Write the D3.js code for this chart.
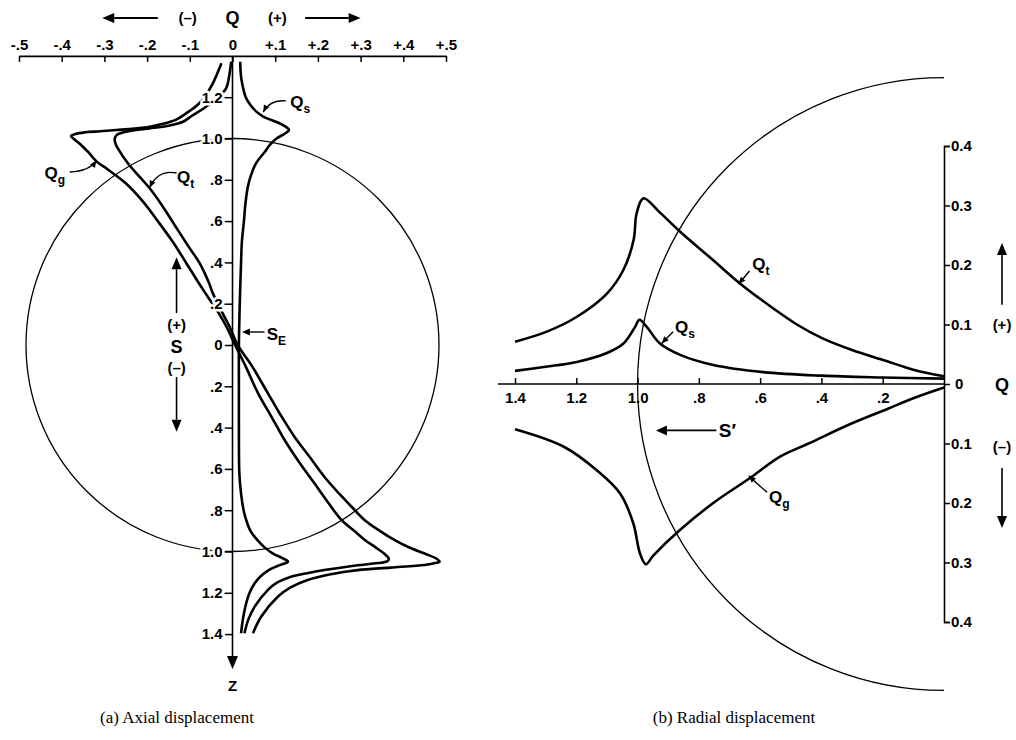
<!DOCTYPE html>
<html>
<head>
<meta charset="utf-8">
<script src="https://cdn.jsdelivr.net/npm/d3@7"></script>
<style>
  html, body { margin: 0; padding: 0; background: #fff; }
  svg { display: block; }
  text { font-family: "Liberation Sans", Arial, sans-serif; font-weight: bold; fill: #000; }
  .caption { font-family: "Liberation Serif", "DejaVu Serif", serif; font-weight: normal; }
</style>
</head>
<body>
<svg id="chart" width="1016" height="740"></svg>
<script>
// ---------- (a) Axial displacement: [S, Q] pairs ----------
const axialQs = [
  [1.372, 0.018], [1.30, 0.020], [1.243, 0.025], [1.20, 0.031], [1.162, 0.042],
  [1.13, 0.056], [1.106, 0.072], [1.074, 0.110], [1.052, 0.128], [1.041, 0.132],
  [1.02, 0.120], [1.0, 0.103], [0.97, 0.088], [0.936, 0.076], [0.88, 0.055],
  [0.82, 0.043], [0.767, 0.036], [0.68, 0.030], [0.605, 0.027], [0.5, 0.022],
  [0.396, 0.020], [0.2, 0.017], [0.0, 0.015], [-0.2, 0.015], [-0.4, 0.015],
  [-0.62, 0.016], [-0.72, 0.020], [-0.80, 0.026], [-0.847, 0.032], [-0.90, 0.042],
  [-0.944, 0.058], [-0.98, 0.075], [-1.01, 0.095], [-1.033, 0.118], [-1.049, 0.130],
  [-1.065, 0.112], [-1.09, 0.085], [-1.12, 0.066], [-1.154, 0.052], [-1.20, 0.040],
  [-1.251, 0.032], [-1.32, 0.025], [-1.396, 0.020]
];
const axialQg = [
  [1.364, -0.026], [1.267, -0.046], [1.20, -0.066], [1.162, -0.082], [1.12, -0.110],
  [1.09, -0.133], [1.07, -0.165], [1.057, -0.194], [1.048, -0.230], [1.041, -0.272],
  [1.035, -0.310], [1.03, -0.345], [1.022, -0.368], [1.012, -0.378], [0.995, -0.370],
  [0.97, -0.355], [0.93, -0.336], [0.888, -0.318], [0.85, -0.292], [0.783, -0.250],
  [0.70, -0.212], [0.589, -0.171], [0.50, -0.140], [0.396, -0.108], [0.30, -0.079],
  [0.234, -0.058], [0.153, -0.032], [0.08, -0.012], [0.0, 0.006], [-0.10, 0.030],
  [-0.234, 0.060], [-0.35, 0.092], [-0.46, 0.122], [-0.57, 0.157], [-0.67, 0.192],
  [-0.76, 0.223], [-0.847, 0.255], [-0.90, 0.285], [-0.944, 0.310], [-0.98, 0.335],
  [-1.01, 0.355], [-1.035, 0.366], [-1.048, 0.362], [-1.056, 0.340], [-1.07, 0.280],
  [-1.09, 0.215], [-1.105, 0.175], [-1.122, 0.137], [-1.15, 0.105], [-1.186, 0.083],
  [-1.267, 0.052], [-1.33, 0.037], [-1.396, 0.028]
];
const axialQt = [
  [1.372, -0.003], [1.30, -0.008], [1.243, -0.015], [1.19, -0.040], [1.148, -0.066],
  [1.11, -0.095], [1.081, -0.116], [1.062, -0.150], [1.049, -0.194], [1.04, -0.230],
  [1.03, -0.255], [1.015, -0.272], [0.995, -0.276], [0.97, -0.273], [0.944, -0.266],
  [0.88, -0.245], [0.82, -0.220], [0.759, -0.194], [0.67, -0.163], [0.573, -0.133],
  [0.48, -0.104], [0.396, -0.077], [0.30, -0.055], [0.25, -0.046], [0.153, -0.023],
  [0.08, -0.005], [0.0, 0.012], [-0.10, 0.045], [-0.234, 0.083], [-0.34, 0.113],
  [-0.444, 0.145], [-0.54, 0.180], [-0.638, 0.215], [-0.72, 0.250], [-0.799, 0.286],
  [-0.847, 0.309], [-0.90, 0.345], [-0.944, 0.379], [-0.977, 0.410], [-1.01, 0.450],
  [-1.035, 0.478], [-1.049, 0.485], [-1.058, 0.470], [-1.065, 0.450], [-1.078, 0.370],
  [-1.09, 0.293], [-1.11, 0.230], [-1.138, 0.176], [-1.175, 0.135], [-1.219, 0.106],
  [-1.316, 0.067], [-1.396, 0.048]
];

// ---------- (b) Radial displacement: [S', Q] pairs ----------
const radialQt = [
  [1.4, 0.071], [1.296, 0.088], [1.198, 0.113], [1.1, 0.152], [1.046, 0.192],
  [1.013, 0.242], [1.003, 0.287], [0.981, 0.312], [0.927, 0.288], [0.861, 0.256],
  [0.753, 0.208], [0.666, 0.169], [0.557, 0.127], [0.48, 0.100],
  [0.398, 0.077], [0.30, 0.057], [0.19, 0.039], [0.10, 0.024], [0.0, 0.013]
];
const radialQs = [
  [1.4, 0.022], [1.3, 0.029], [1.198, 0.037], [1.1, 0.052], [1.046, 0.068],
  [1.008, 0.096], [0.994, 0.108], [0.97, 0.096], [0.927, 0.068], [0.861, 0.049],
  [0.753, 0.032], [0.59, 0.020], [0.4, 0.014], [0.2, 0.011], [0.0, 0.009]
];
const radialQg = [
  [1.4, -0.076], [1.242, -0.105], [1.133, -0.145], [1.057, -0.184], [1.014, -0.234],
  [0.992, -0.285], [0.973, -0.303], [0.948, -0.288], [0.861, -0.245], [0.753, -0.200],
  [0.633, -0.158], [0.535, -0.122], [0.442, -0.100], [0.30, -0.066], [0.185, -0.042],
  [0.10, -0.024], [0.0, -0.006]
];

// ---------- tick values and labels ----------
const topTicks  = [-0.5, -0.4, -0.3, -0.2, -0.1, 0, 0.1, 0.2, 0.3, 0.4, 0.5];
const topLabels = ["-.5", "-.4", "-.3", "-.2", "-.1", "0", "+.1", "+.2", "+.3", "+.4", "+.5"];
const zTicks    = [1.2, 1.0, 0.8, 0.6, 0.4, 0.2, 0, -0.2, -0.4, -0.6, -0.8, -1.0, -1.2, -1.4];
const zLabels   = ["1.2", "1.0", ".8", ".6", ".4", ".2", "0", ".2", ".4", ".6", ".8", "1.0", "1.2", "1.4"];
const sTicks    = [1.4, 1.2, 1.0, 0.8, 0.6, 0.4, 0.2];
const sLabels   = ["1.4", "1.2", "1.0", ".8", ".6", ".4", ".2"];
const qTicks    = [0.4, 0.3, 0.2, 0.1, 0, -0.1, -0.2, -0.3, -0.4];
const qLabels   = ["0.4", "0.3", "0.2", "0.1", "0", "0.1", "0.2", "0.3", "0.4"];

const svg = d3.select("#chart");
svg.append("rect").attr("width", 1016).attr("height", 740).attr("fill", "#fff");

// arrow with filled triangular head at (x2, y2)
function arrow(g, x1, y1, x2, y2, len = 10, half = 4.5, sw = 1.6) {
  const a = Math.atan2(y2 - y1, x2 - x1);
  const bx = x2 - len * Math.cos(a), by = y2 - len * Math.sin(a);
  g.append("line").attr("x1", x1).attr("y1", y1).attr("x2", bx).attr("y2", by)
    .attr("stroke", "#000").attr("stroke-width", sw);
  const p = [
    [x2, y2],
    [bx + half * Math.sin(a), by - half * Math.cos(a)],
    [bx - half * Math.sin(a), by + half * Math.cos(a)]
  ];
  g.append("path").attr("d", "M" + p.map(d => d.join(",")).join("L") + "Z").attr("fill", "#000");
}

// curved leader ending in a small arrowhead
function leader(g, p0, c, p1) {
  g.append("path")
    .attr("d", `M${p0[0]},${p0[1]}Q${c[0]},${c[1]} ${p1[0]},${p1[1]}`)
    .attr("fill", "none").attr("stroke", "#000").attr("stroke-width", 1.4);
  const a = Math.atan2(p1[1] - c[1], p1[0] - c[0]);
  const len = 7, half = 3;
  const bx = p1[0] - len * Math.cos(a), by = p1[1] - len * Math.sin(a);
  g.append("path")
    .attr("d", `M${p1[0]},${p1[1]}L${bx + half * Math.sin(a)},${by - half * Math.cos(a)}L${bx - half * Math.sin(a)},${by + half * Math.cos(a)}Z`)
    .attr("fill", "#000");
}

// label with a subscript
function subLabel(g, x, y, main, sub, size = 17) {
  const t = g.append("text").attr("x", x).attr("y", y).style("font-size", size + "px");
  t.append("tspan").text(main);
  t.append("tspan").attr("dy", 5).style("font-size", Math.round(size * 0.72) + "px").text(sub);
  return t;
}

function halo(sel) {
  sel.selectAll("text")
    .attr("stroke", "#fff").attr("stroke-width", 5).attr("paint-order", "stroke")
    .attr("stroke-linejoin", "round");
}

// ======================= (a) Axial displacement =======================
const xQ = d3.scaleLinear().domain([-0.5, 0.5]).range([19, 446]);
const yS = d3.scaleLinear().domain([-1.4, 1.4]).range([634.1, 55.9]);

const gA = svg.append("g");
const rA = yS(0) - yS(1);

// unit circle
gA.append("circle").attr("cx", xQ(0)).attr("cy", yS(0)).attr("r", rA)
  .attr("fill", "none").attr("stroke", "#000").attr("stroke-width", 1.3);

const lineA = d3.line().x(d => xQ(d[1])).y(d => yS(d[0])).curve(d3.curveCatmullRom.alpha(0.5));
[axialQs, axialQg, axialQt].forEach(data => {
  gA.append("path").attr("d", lineA(data)).attr("fill", "none")
    .attr("stroke", "#000").attr("stroke-width", 2.6).attr("stroke-linejoin", "round");
});

// vertical Z axis with arrowhead
arrow(gA, xQ(0), yS(1.4), xQ(0), 669, 13, 5.5, 1.6);
gA.append("text").attr("x", xQ(0)).attr("y", 691).attr("text-anchor", "middle")
  .style("font-size", "15px").text("Z");

const zAxis = gA.append("g").attr("transform", `translate(${xQ(0)},0)`)
  .call(d3.axisLeft(yS).tickValues(zTicks).tickSize(8).tickPadding(2)
    .tickFormat((d, i) => zLabels[i]));
zAxis.select(".domain").remove();
zAxis.selectAll("line").attr("stroke", "#000").attr("stroke-width", 1.5);
zAxis.selectAll("text").style("font-size", "15px").attr("font-family", null);
halo(zAxis);

// top Q axis
const qAxis = gA.append("g").attr("transform", `translate(0,${yS(1.4)})`)
  .call(d3.axisTop(xQ).tickValues(topTicks).tickSize(-6).tickSizeOuter(0).tickPadding(6)
    .tickFormat((d, i) => topLabels[i]));
qAxis.select(".domain").attr("stroke", "#000").attr("stroke-width", 1.6);
qAxis.selectAll("line").attr("stroke", "#000").attr("stroke-width", 1.5);
qAxis.selectAll("text").style("font-size", "15px").attr("font-family", null);

// Q direction heading
gA.append("text").attr("x", xQ(0)).attr("y", 24).attr("text-anchor", "middle")
  .style("font-size", "18px").text("Q");
gA.append("text").attr("x", xQ(-0.105)).attr("y", 23).attr("text-anchor", "middle")
  .style("font-size", "15px").text("(–)");
gA.append("text").attr("x", xQ(0.105)).attr("y", 23).attr("text-anchor", "middle")
  .style("font-size", "15px").text("(+)");
arrow(gA, xQ(-0.175), 18, xQ(-0.305), 18, 12, 5, 1.8);
arrow(gA, xQ(0.17), 18, xQ(0.30), 18, 12, 5, 1.8);

// S direction markers
const sx = xQ(-0.131);
arrow(gA, sx, yS(0.155), sx, yS(0.425), 12, 5, 1.6);
gA.append("text").attr("x", sx).attr("y", yS(0.097) + 5).attr("text-anchor", "middle")
  .style("font-size", "15px").text("(+)");
gA.append("text").attr("x", sx).attr("y", yS(-0.01) + 6).attr("text-anchor", "middle")
  .style("font-size", "18px").text("S");
gA.append("text").attr("x", sx).attr("y", yS(-0.111) + 5).attr("text-anchor", "middle")
  .style("font-size", "15px").text("(–)");
arrow(gA, sx, yS(-0.155), sx, yS(-0.42), 12, 5, 1.6);

// curve labels
subLabel(gA, xQ(0.135), yS(1.148), "Q", "s");
leader(gA, [xQ(0.125), yS(1.182)], [xQ(0.088), yS(1.19)], [xQ(0.072), yS(1.128)]);
subLabel(gA, xQ(-0.44), yS(0.804), "Q", "g");
leader(gA, [xQ(-0.381), yS(0.838)], [xQ(-0.335), yS(0.842)], [xQ(-0.319), yS(0.893)]);
subLabel(gA, xQ(-0.13), yS(0.785), "Q", "t");
leader(gA, [xQ(-0.131), yS(0.833)], [xQ(-0.175), yS(0.85)], [xQ(-0.194), yS(0.762)]);
subLabel(gA, xQ(0.08), yS(0.022), "S", "E");
arrow(gA, xQ(0.075), yS(0.063), xQ(0.022), yS(0.063), 8, 3.5, 1.4);

// ======================= (b) Radial displacement =======================
const xS2 = d3.scaleLinear().domain([0, 1.4]).range([944, 515]);
const yQ2 = d3.scaleLinear().domain([-0.4, 0.4]).range([622, 146]);
const gB = svg.append("g");
const rB = xS2(0) - xS2(1);

// left half of the unit circle
const arcPath = d3.path();
arcPath.arc(xS2(0), yQ2(0), rB, Math.PI / 2, 3 * Math.PI / 2);
gB.append("path").attr("d", arcPath.toString()).attr("fill", "none")
  .attr("stroke", "#000").attr("stroke-width", 1.3);

const lineB = d3.line().x(d => xS2(d[0])).y(d => yQ2(d[1])).curve(d3.curveCatmullRom.alpha(0.5));
[radialQt, radialQs, radialQg].forEach(data => {
  gB.append("path").attr("d", lineB(data)).attr("fill", "none")
    .attr("stroke", "#000").attr("stroke-width", 2.6).attr("stroke-linejoin", "round");
});

// horizontal S' axis
gB.append("line").attr("x1", 498).attr("x2", xS2(0)).attr("y1", yQ2(0)).attr("y2", yQ2(0))
  .attr("stroke", "#000").attr("stroke-width", 1.6);
const sAxis = gB.append("g").attr("transform", `translate(0,${yQ2(0)})`)
  .call(d3.axisBottom(xS2).tickValues(sTicks).tickSize(-6).tickSizeOuter(0).tickPadding(8)
    .tickFormat((d, i) => sLabels[i]));
sAxis.select(".domain").remove();
sAxis.selectAll("line").attr("stroke", "#000").attr("stroke-width", 1.5);
sAxis.selectAll("text").style("font-size", "15px").attr("font-family", null);

// vertical Q axis
const q2Axis = gB.append("g").attr("transform", `translate(${xS2(0)},0)`)
  .call(d3.axisRight(yQ2).tickValues(qTicks).tickSize(6).tickSizeOuter(6).tickPadding(1)
    .tickFormat((d, i) => qLabels[i]));
q2Axis.select(".domain").attr("stroke", "#000").attr("stroke-width", 1.6);
q2Axis.selectAll("line").attr("stroke", "#000").attr("stroke-width", 1.5);
q2Axis.selectAll("text").style("font-size", "15px").attr("font-family", null);
q2Axis.selectAll(".tick").filter(d => d === 0).select("text").attr("x", 11);

// Q direction markers at the right
const qx = 1002;
arrow(gB, qx, yQ2(0.133), qx, yQ2(0.237), 12, 5, 1.6);
gB.append("text").attr("x", qx).attr("y", yQ2(0.1) + 5).attr("text-anchor", "middle")
  .style("font-size", "15px").text("(+)");
gB.append("text").attr("x", qx).attr("y", yQ2(0) + 7).attr("text-anchor", "middle")
  .style("font-size", "18px").text("Q");
gB.append("text").attr("x", qx).attr("y", yQ2(-0.106) + 5).attr("text-anchor", "middle")
  .style("font-size", "15px").text("(–)");
arrow(gB, qx, yQ2(-0.141), qx, yQ2(-0.242), 12, 5, 1.6);

// S' direction
arrow(gB, xS2(0.743), yQ2(-0.078), xS2(0.94), yQ2(-0.078), 11, 5, 1.6);
gB.append("text").attr("x", xS2(0.735)).attr("y", yQ2(-0.078) + 7)
  .style("font-size", "19px").text("S′");

// curve labels
subLabel(gB, xS2(0.626), yQ2(0.192), "Q", "t");
leader(gB, [xS2(0.635), yQ2(0.19)], [xS2(0.65), yQ2(0.18)], [xS2(0.671), yQ2(0.168)]);
subLabel(gB, xS2(0.878), yQ2(0.086), "Q", "s");
leader(gB, [xS2(0.884), yQ2(0.088)], [xS2(0.9), yQ2(0.08)], [xS2(0.921), yQ2(0.068)]);
subLabel(gB, xS2(0.571), yQ2(-0.2), "Q", "g");
leader(gB, [xS2(0.577), yQ2(-0.182)], [xS2(0.605), yQ2(-0.17)], [xS2(0.637), yQ2(-0.154)]);

// ======================= captions =======================
svg.append("text").attr("class", "caption").attr("x", 177).attr("y", 723)
  .attr("text-anchor", "middle").style("font-size", "17px").text("(a) Axial displacement");
svg.append("text").attr("class", "caption").attr("x", 734).attr("y", 723)
  .attr("text-anchor", "middle").style("font-size", "17px").text("(b) Radial displacement");
</script>
</body>
</html>
